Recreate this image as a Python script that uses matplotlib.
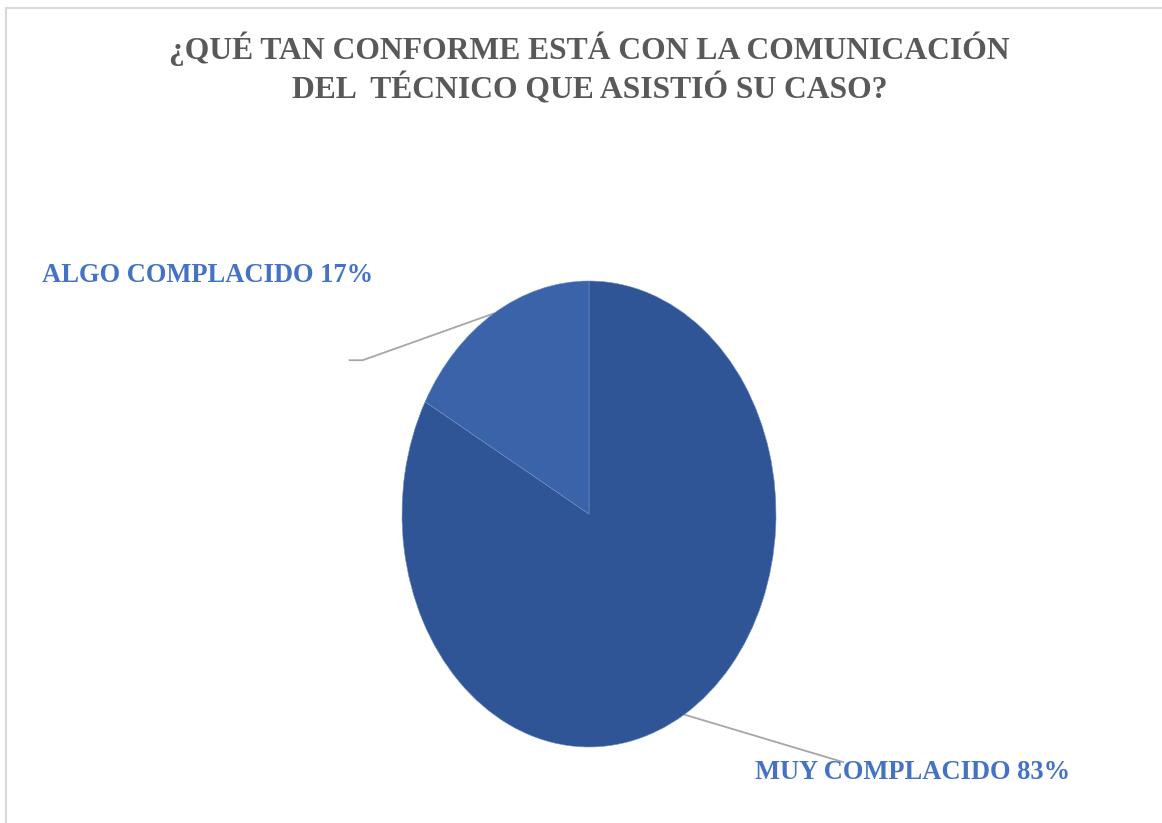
import numpy as np
import matplotlib.pyplot as plt
from matplotlib.patches import Rectangle

TITLE = "¿QUÉ TAN CONFORME ESTÁ CON LA COMUNICACIÓN\nDEL  TÉCNICO QUE ASISTIÓ SU CASO?"
CATEGORIES = ["MUY COMPLACIDO", "ALGO COMPLACIDO"]
PERCENTS = [83, 17]
SLICE_COLORS = ["#2F5596", "#3A63A9"]

W, H = 1162, 823
CX, CY = 589, 514          # pie centre in pixels (from top)
RX, RY = 187, 233          # ellipse radii in pixels

plt.rcParams["font.family"] = ["Liberation Serif", "DejaVu Serif"]

fig = plt.figure(figsize=(W / 100, H / 100), dpi=100)
ax = fig.add_axes([0, 0, 1, 1])

wedges, _ = ax.pie(
    PERCENTS,
    colors=SLICE_COLORS,
    startangle=90,
    counterclock=False,
    wedgeprops=dict(edgecolor="#6F8FC8", linewidth=0.4),
    frame=True,
)
ax.set_aspect("auto")
ax.set_xlim(-CX / RX, (W - CX) / RX)
ax.set_ylim(-(H - CY) / RY, CY / RY)
ax.axis("off")

# leader lines + labels (elbow and text positions in data units)
layout = {
    "ALGO COMPLACIDO": dict(elbow=(-1.21, 0.66), end=(-1.28, 0.66),
                            text=(-2.925, 1.025)),
    "MUY COMPLACIDO": dict(elbow=(1.36, -1.065), end=(1.36, -1.065),
                           text=(0.89, -1.11)),
}
for wedge, cat, pct in zip(wedges, CATEGORIES, PERCENTS):
    mid = np.deg2rad((wedge.theta1 + wedge.theta2) / 2)
    px, py = np.cos(mid), np.sin(mid)
    lay = layout[cat]
    ax.plot([px, lay["elbow"][0], lay["end"][0]],
            [py, lay["elbow"][1], lay["end"][1]],
            color="#A6A6A6", linewidth=1.3, zorder=0)
    ax.text(lay["text"][0], lay["text"][1], f"{cat} {pct}%",
            ha="left", va="center", fontsize=19.1, fontweight="bold",
            color="#4472C4")

fig.text(0.5075, 1 - 68.5 / H, TITLE, ha="center", va="center",
         fontsize=22.8, fontweight="bold", color="#595959", linespacing=1.3)

fig.patches.append(Rectangle((6 / W, -0.1), 1.2, 1 - 8 / H + 0.1,
                             transform=fig.transFigure, fill=False,
                             edgecolor="#D9D9D9", linewidth=1.5))

fig.savefig("out.png", dpi=100)
